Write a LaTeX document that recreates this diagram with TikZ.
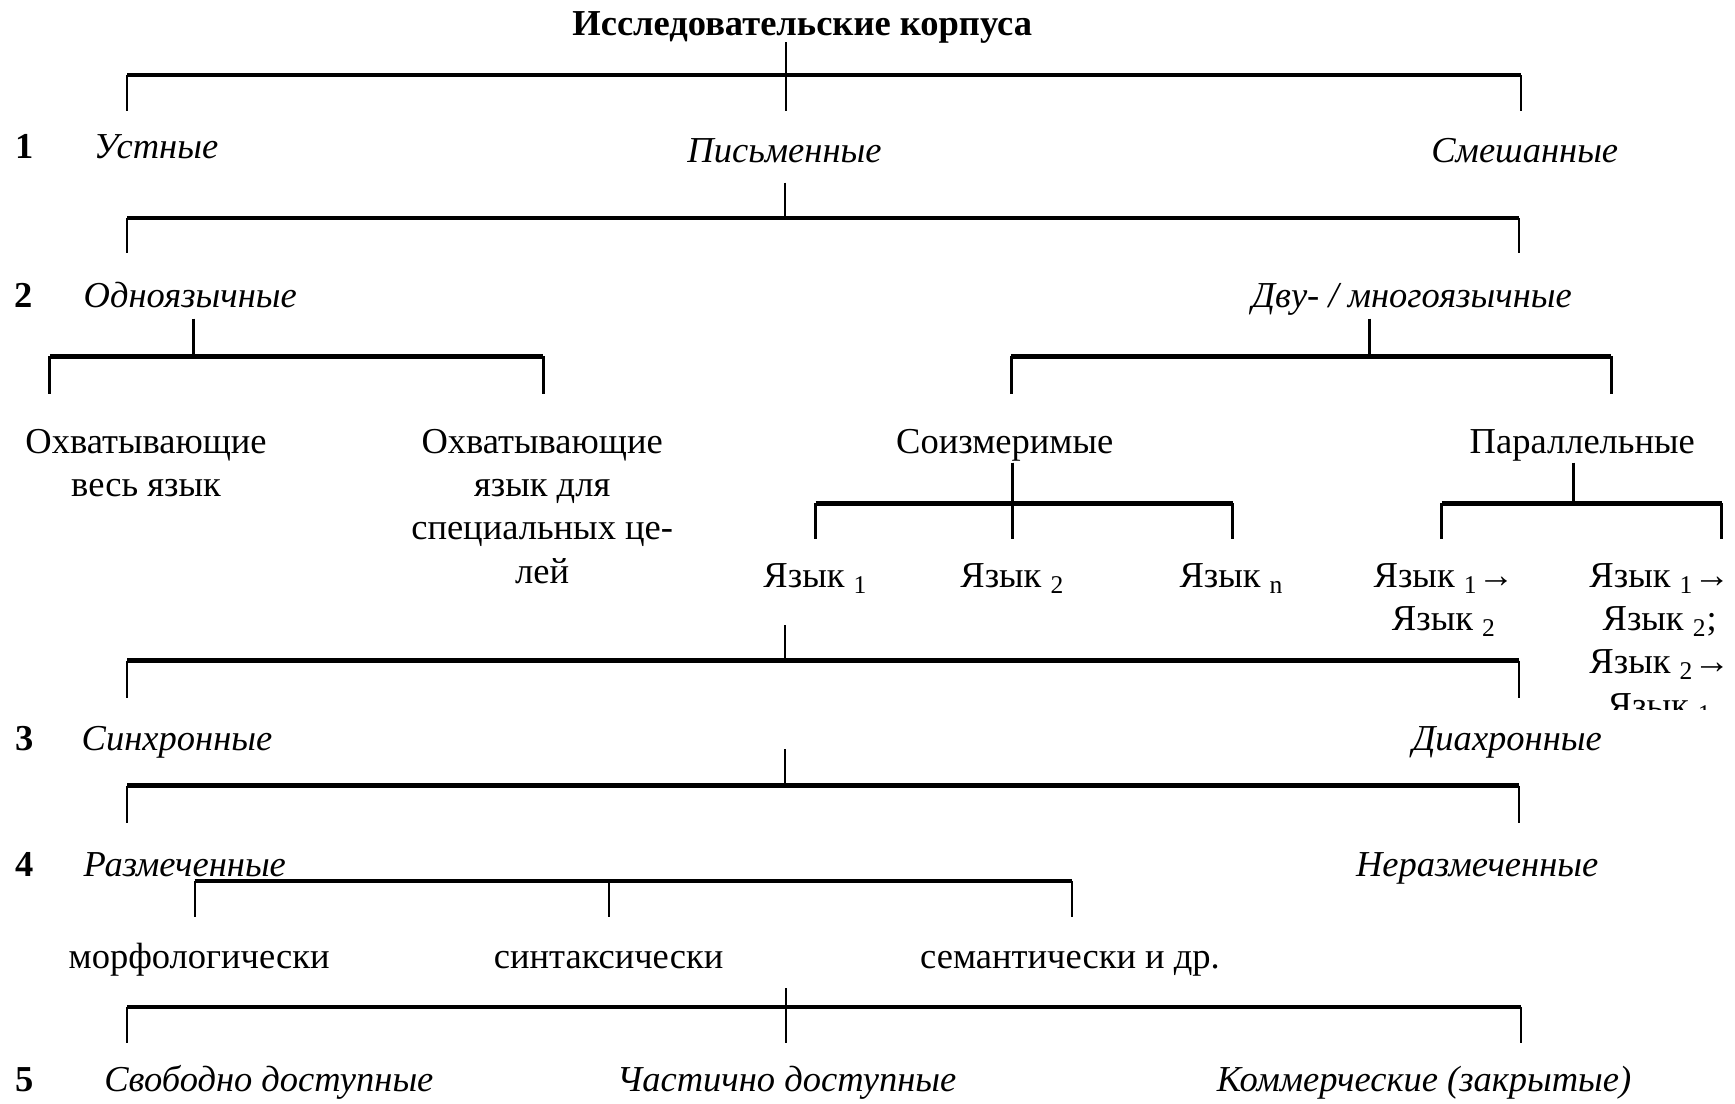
\documentclass[tikz,border=0pt]{standalone}
\usepackage{fontspec}
\setmainfont{Liberation Serif}
\usetikzlibrary{positioning}

\begin{document}
\begin{tikzpicture}[x=0.5pt, y=-0.5pt, line cap=butt,
  every node/.style={anchor=base, inner sep=0pt, font=\fontsize{16.5}{19.5}\selectfont},
  kind/.style={font=\fontsize{16.5}{19.5}\selectfont\itshape},
  num/.style={font=\fontsize{16.5}{19.5}\selectfont\bfseries},
  leaf/.style={align=center},
  bar/.style={line width=2pt},
  leg/.style={line width=0.9pt},
  thickleg/.style={line width=1.3pt}]
\useasboundingbox (0,0) rectangle (1568,997);

% texts (multi-line nodes sit on the baseline of their last line)
\node[num]  (title)    at (725,32)   {Исследовательские корпуса};
\node[num]  (n1)       at (22,143)   {1};
\node[kind] (oral)     at (141,143)  {Устные};
\node[kind] (written)  at (709,147)  {Письменные};
\node[kind] (mixed)    at (1378,147) {Смешанные};
\node[num]  (n2)       at (21,278)   {2};
\node[kind] (mono)     at (172,278)  {Одноязычные};
\node[kind] (multi)    at (1276,278) {Дву- / многоязычные};
\node[leaf] (whole)    at (132,449)  {Охватывающие\\весь язык};
\node[leaf] (special)  at (490,527)  {Охватывающие\\язык для\\специальных це-\\лей};
\node       (commens)  at (908,410)  {Соизмеримые};
\node       (par)      at (1430,410) {Параллельные};
\node       (lang1)    at (737,531)  {Язык \textsubscript{1}};
\node       (lang2)    at (915,531)  {Язык \textsubscript{2}};
\node       (langn)    at (1113,531) {Язык \textsubscript{n}};
\node[leaf] (pair)     at (1305,570) {Язык \textsubscript{1}→\\Язык \textsubscript{2}};
\begin{scope}
\clip (1390,495) rectangle (1568,641);
\node[leaf] (pairs)    at (1500,648) {Язык \textsubscript{1}→\\Язык \textsubscript{2};\\Язык \textsubscript{2}→\\Язык \textsubscript{1}};
\end{scope}
\node[num]  (n3)       at (22,678)   {3};
\node[kind] (sync)     at (160,678)  {Синхронные};
\node[kind] (diachr)   at (1362,678) {Диахронные};
\node[num]  (n4)       at (22,792)   {4};
\node[kind] (tagged)   at (167,792)  {Размеченные};
\node[kind] (untagged) at (1335,792) {Неразмеченные};
\node       (morph)    at (180,875)  {морфологически};
\node       (synt)     at (550,875)  {синтаксически};
\node       (sem)      at (967,875)  {семантически и др.};
\node[num]  (n5)       at (22,986)   {5};
\node[kind] (free)     at (243,986)  {Свободно доступные};
\node[kind] (partly)   at (711,986)  {Частично доступные};
\node[kind] (commerc)  at (1287,986) {Коммерческие (закрытые)};

% bracket points
\coordinate (s1) at (710,38);  \coordinate (l1) at (115,68);  \coordinate (r1) at (1375,68);  \coordinate (e1) at (710,100);
\coordinate (s2) at (709,165); \coordinate (l2) at (115,197); \coordinate (r2) at (1373,197); \coordinate (e2) at (709,229);
\coordinate (s3) at (175,288); \coordinate (l3) at (45,322);  \coordinate (r3) at (491,322);  \coordinate (e3) at (175,356);
\coordinate (s4) at (1238,288);\coordinate (l4) at (914,322); \coordinate (r4) at (1456,322); \coordinate (e4) at (1238,356);
\coordinate (s5) at (915,418); \coordinate (l5) at (737,455); \coordinate (r5) at (1114,455); \coordinate (e5) at (915,487);
\coordinate (s6) at (1422,418);\coordinate (l6) at (1303,455);\coordinate (r6) at (1556,455); \coordinate (e6) at (1422,487);
\coordinate (s7) at (709,565); \coordinate (l7) at (115,597); \coordinate (r7) at (1373,597); \coordinate (e7) at (709,631);
\coordinate (s8) at (709,677); \coordinate (l8) at (115,710); \coordinate (r8) at (1373,710); \coordinate (e8) at (709,744);
\coordinate (m9) at (550,796); \coordinate (l9) at (176,796); \coordinate (r9) at (969,796);  \coordinate (e9) at (550,829);
\coordinate (s0) at (710,893); \coordinate (l0) at (115,910); \coordinate (r0) at (1375,910); \coordinate (e0) at (710,943);

% brackets
\foreach \b in {1,2,7,8,0}{
  \draw[bar] (l\b) -- (r\b);
  \draw[leg] (s\b) -- (s\b |- l\b);
  \draw[leg] (l\b) -- (l\b |- e\b);
  \draw[leg] (r\b) -- (r\b |- e\b);
}
\foreach \b in {3,4,5,6}{
  \draw[bar] (l\b) -- (r\b);
  \draw[thickleg] (s\b) -- (s\b |- l\b);
  \draw[thickleg] (l\b) -- (l\b |- e\b);
  \draw[thickleg] (r\b) -- (r\b |- e\b);
}
\draw[bar] (l9) -- (r9);
\draw[leg] (l9) -- (l9 |- e9);
\draw[leg] (m9) -- (e9);
\draw[leg] (r9) -- (r9 |- e9);
\draw[leg] (s1) -- (e1);
\draw[thickleg] (s5) -- (e5);
\draw[leg] (s0) -- (e0);
\end{tikzpicture}
\end{document}
